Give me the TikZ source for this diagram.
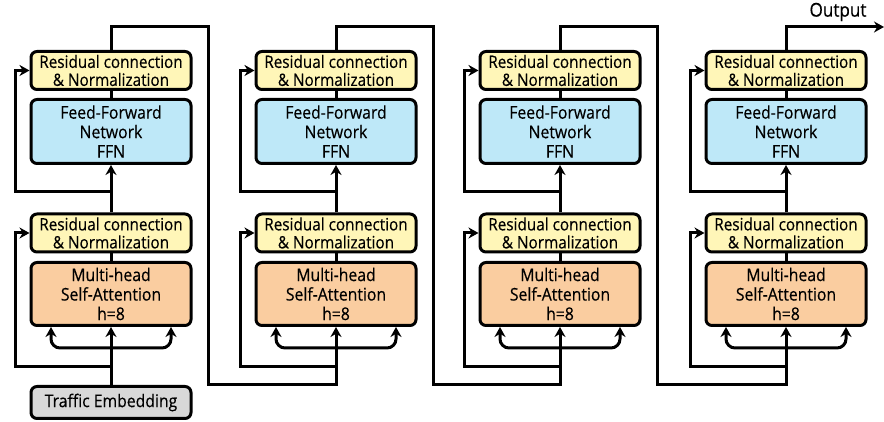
\documentclass[tikz,border=0pt]{standalone}
\usepackage{fontspec}
\setmainfont{Open Sans}[FakeStretch=0.9, FakeBold=0.4]
\usetikzlibrary{arrows.meta}
\definecolor{resnorm}{RGB}{255,246,184}
\definecolor{ffnblue}{RGB}{190,232,248}
\definecolor{attnorange}{RGB}{250,205,160}
\definecolor{embgray}{RGB}{216,216,216}
\tikzset{
  blk/.style={draw=black, line width=3pt, rounded corners=6pt, minimum width=160pt,
    align=center, inner sep=0pt, font=\fontsize{17.5}{18}\selectfont},
  resbox/.style={blk, fill=resnorm, minimum height=38pt, font=\fontsize{17}{18}\selectfont},
  ffnbox/.style={blk, fill=ffnblue, minimum height=64pt, font=\fontsize{17.5}{19.5}\selectfont},
  attnbox/.style={blk, fill=attnorange, minimum height=63pt, font=\fontsize{17.5}{19.5}\selectfont},
  embbox/.style={blk, fill=embgray, minimum height=32pt},
  wire/.style={line width=3pt},
  conn/.style={line width=3pt, -{Stealth[length=10pt,width=11pt]}},
}
\begin{document}
\begin{tikzpicture}[x=1pt,y=1pt]
\useasboundingbox (0,0) rectangle (884,422);

% four encoder layers, each at its own column centre
\foreach \i/\cx in {1/111,2/336,3/560,4/786}{
  \node[resbox]  (top\i) at (\cx,351.5) {Residual connection\\\& Normalization};
  \node[ffnbox]  (ffn\i) at (\cx,290.5) {Feed-Forward\\Network\\FFN};
  \node[resbox]  (bot\i) at (\cx,189)   {Residual connection\\\& Normalization};
  \node[attnbox] (mha\i) at (\cx,128)   {Multi-head\\Self-Attention\\h=8};
  \coordinate (tapA\i) at (\cx,230);
  \coordinate (tapB\i) at (\cx,55);
  \coordinate (fork\i) at (\cx,74);
  \coordinate (entry\i) at (\cx,37);
  \coordinate (rise\i) at (\cx,395);
  \coordinate (drop\i) at (\cx+97,395);
  \coordinate (resA\i) at (\cx-96,351.5);
  \coordinate (resB\i) at (\cx-96,189);

  % main data path inside the layer
  \draw[wire] (top\i.south) -- (ffn\i.north);
  \draw[conn] (bot\i.north) -- (ffn\i.south);
  \draw[wire] (bot\i.south) -- (mha\i.north);

  % residual branches
  \draw[conn] (tapA\i) -| (resA\i) -- (top\i.west);
  \draw[conn] (tapB\i) -| (resB\i) -- (bot\i.west);

  % query / key / value fan-out into attention
  \draw[conn, rounded corners=9pt] (fork\i) -| ([xshift=-60pt]mha\i.south);
  \draw[conn, rounded corners=9pt] (fork\i) -| ([xshift=60pt]mha\i.south);
}

% input embedding
\node[embbox] (emb) at (111,19.5) {Traffic Embedding};
\draw[conn] (emb.north) -- (mha1.south);

% layer-to-layer links
\foreach \i/\j in {1/2,2/3,3/4}{
  \draw[conn] (top\i.north) -- (rise\i) -- (drop\i) |- (entry\j) -- (mha\j.south);
}

% final output
\coordinate (outEnd) at (884,395);
\draw[conn] (top4.north) -- (rise4) -- (outEnd);
\node[font=\fontsize{19}{20}\selectfont] (outLabel) at (838,410) {Output};
\end{tikzpicture}
\end{document}
